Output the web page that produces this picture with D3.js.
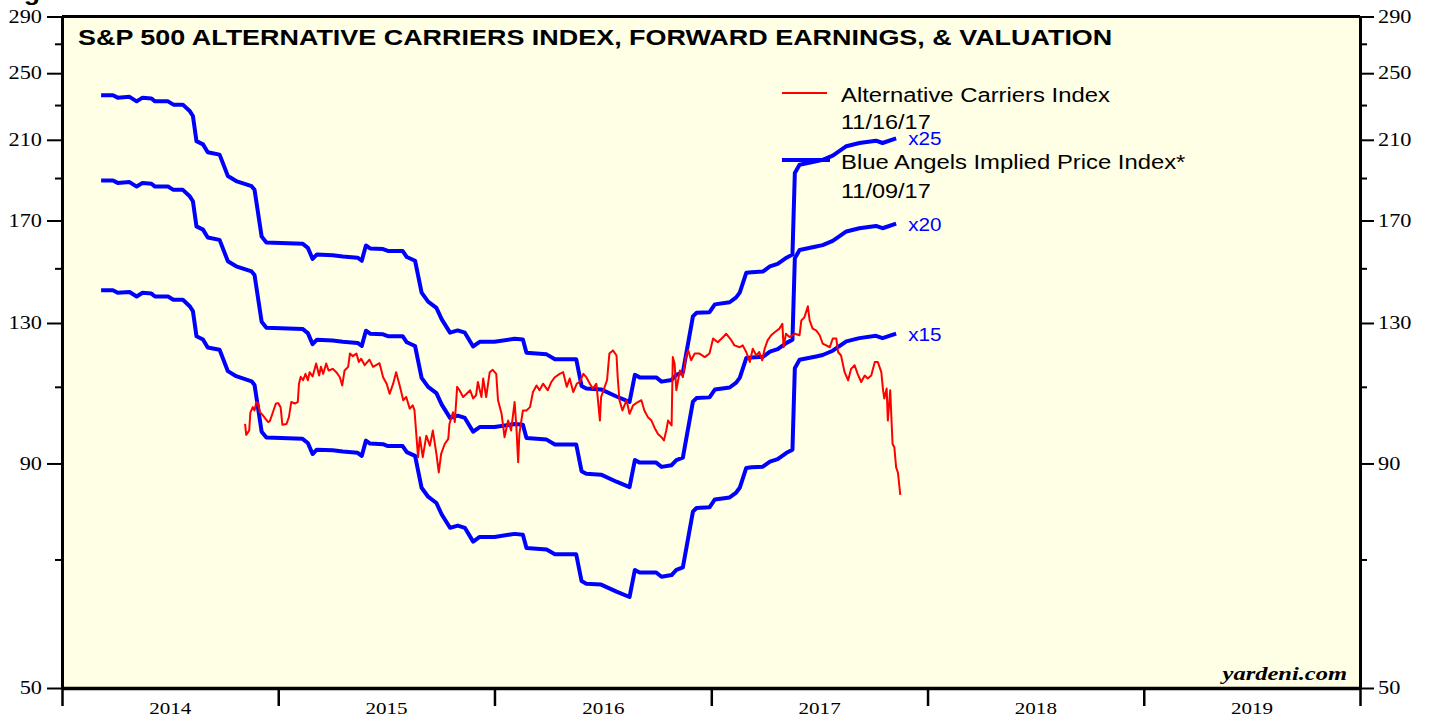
<!DOCTYPE html>
<html lang="en">
<head>
<meta charset="UTF-8">
<title>S&amp;P 500 Alternative Carriers Index, Forward Earnings, &amp; Valuation</title>
<script src="https://d3js.org/d3.v7.min.js"></script>
<style>
  body, html { margin: 0; padding: 0; background: #fff; overflow: hidden; }
  svg { display: block; }
  .sans { font-family: "Liberation Sans", Arial, Helvetica, sans-serif; }
  .serif { font-family: "Liberation Serif", "Times New Roman", serif; }
</style>
</head>
<body>
<svg width="1429" height="719"></svg>
<script>
// ---- data ----
const multiples = [15, 20, 25];

// forward earnings, weekly corners of the step line
const feDates = [
  "2014-03-08","2014-03-28","2014-04-05","2014-04-25","2014-05-07","2014-05-17","2014-06-01","2014-06-07",
  "2014-06-29","2014-07-08","2014-07-24","2014-08-05","2014-08-10","2014-08-16","2014-08-27","2014-09-04",
  "2014-09-24","2014-10-08","2014-10-22","2014-11-17","2014-11-22","2014-12-04","2014-12-12",
  "2015-02-11","2015-02-20","2015-02-28","2015-03-07","2015-04-03","2015-04-20","2015-05-15","2015-05-22",
  "2015-05-29","2015-06-05","2015-06-27","2015-07-05","2015-07-30","2015-08-06","2015-08-20","2015-08-31",
  "2015-09-11","2015-09-25","2015-10-04","2015-10-18","2015-10-31","2015-11-12","2015-11-26","2015-12-07",
  "2016-01-01","2016-02-04","2016-02-18","2016-02-24","2016-03-29","2016-04-12","2016-05-18","2016-05-27",
  "2016-06-04","2016-06-29","2016-07-25","2016-08-16","2016-08-25","2016-09-02","2016-09-30","2016-10-09",
  "2016-10-26","2016-11-03","2016-11-14","2016-12-01","2016-12-07","2016-12-29",
  "2017-01-07","2017-02-01","2017-02-12","2017-02-18","2017-03-01","2017-03-10","2017-03-29","2017-04-10",
  "2017-04-23","2017-05-08","2017-05-18","2017-05-22","2017-05-30","2017-06-27","2017-07-08","2017-07-25",
  "2017-08-17","2017-09-08","2017-10-06","2017-10-17","2017-11-09"
];
const feValues = [
  9.44,9.44,9.38,9.40,9.29,9.38,9.36,9.29,
  9.29,9.21,9.21,9.05,8.94,8.37,8.30,8.13,
  8.08,7.64,7.54,7.44,7.37,6.52,6.42,
  6.40,6.33,6.15,6.22,6.21,6.19,6.17,6.12,
  6.37,6.32,6.31,6.28,6.28,6.18,6.12,5.63,
  5.50,5.41,5.25,5.07,5.10,5.07,4.89,4.95,
  4.95,4.99,4.98,4.81,4.79,4.73,4.73,4.41,
  4.38,4.37,4.29,4.23,4.54,4.51,4.51,4.46,
  4.48,4.54,4.57,5.29,5.34,5.35,
  5.46,5.49,5.56,5.63,5.93,5.94,5.95,6.03,
  6.07,6.17,6.22,7.70,7.87,7.94,7.97,8.06,
  8.26,8.33,8.38,8.33,8.43
];

// alternative carriers index
const acDates = [
  "2014-11-06","2014-11-08","2014-11-13","2014-11-15","2014-11-19","2014-11-22","2014-11-25","2014-11-28",
  "2014-12-01","2014-12-06","2014-12-15","2014-12-18","2014-12-23","2014-12-28",
  "2015-01-01","2015-01-05","2015-01-08","2015-01-15","2015-01-19","2015-01-23","2015-01-29","2015-02-03",
  "2015-02-05","2015-02-08","2015-02-12","2015-02-16","2015-02-20","2015-02-23","2015-02-28","2015-03-06",
  "2015-03-11","2015-03-14","2015-03-18","2015-03-23","2015-03-27","2015-04-03","2015-04-09","2015-04-15",
  "2015-04-19","2015-04-23","2015-04-29","2015-05-02","2015-05-07","2015-05-13","2015-05-17","2015-05-21",
  "2015-05-27","2015-06-04","2015-06-10","2015-06-21","2015-06-27","2015-07-03","2015-07-08","2015-07-14",
  "2015-07-19","2015-07-25","2015-07-31","2015-08-05","2015-08-11","2015-08-16","2015-08-19","2015-08-25",
  "2015-08-28","2015-09-02","2015-09-08","2015-09-14","2015-09-19","2015-09-25","2015-09-29","2015-10-03",
  "2015-10-09","2015-10-15","2015-10-17","2015-10-23","2015-10-26","2015-10-30","2015-11-03","2015-11-09",
  "2015-11-15","2015-11-21","2015-11-26","2015-12-01","2015-12-04","2015-12-10","2015-12-13","2015-12-18",
  "2015-12-24","2015-12-29",
  "2016-01-04","2016-01-07","2016-01-13","2016-01-18","2016-01-24","2016-01-29","2016-02-04","2016-02-07",
  "2016-02-10","2016-02-12","2016-02-18","2016-02-24","2016-03-01","2016-03-06","2016-03-12","2016-03-17",
  "2016-03-23","2016-03-31","2016-04-06","2016-04-12","2016-04-20","2016-04-26","2016-05-02","2016-05-07",
  "2016-05-13","2016-05-19","2016-05-24","2016-05-30","2016-06-04","2016-06-10","2016-06-15","2016-06-21",
  "2016-06-27","2016-06-29","2016-07-05","2016-07-09","2016-07-13","2016-07-19","2016-07-25","2016-07-27",
  "2016-07-30","2016-08-04","2016-08-11","2016-08-16","2016-08-22","2016-08-30","2016-09-05","2016-09-10",
  "2016-09-16","2016-09-22","2016-09-27","2016-10-03","2016-10-09","2016-10-13","2016-10-17","2016-10-20",
  "2016-10-26","2016-10-28","2016-10-31","2016-11-03","2016-11-09","2016-11-14","2016-11-19","2016-11-23",
  "2016-11-28","2016-12-04","2016-12-12","2016-12-21","2016-12-29",
  "2017-01-04","2017-01-12","2017-01-21","2017-01-26","2017-02-04","2017-02-09","2017-02-18","2017-02-23",
  "2017-03-01","2017-03-07","2017-03-12","2017-03-18","2017-03-23","2017-03-28","2017-04-01","2017-04-06",
  "2017-04-12","2017-04-18","2017-04-26","2017-05-01","2017-05-03","2017-05-07","2017-05-13","2017-05-22",
  "2017-05-30","2017-06-02","2017-06-07","2017-06-13","2017-06-16","2017-06-21","2017-06-27","2017-07-03",
  "2017-07-08","2017-07-14","2017-07-20","2017-07-25","2017-07-31","2017-08-03","2017-08-08","2017-08-14",
  "2017-08-20","2017-08-25","2017-08-31","2017-09-05","2017-09-11","2017-09-17","2017-09-22","2017-09-28",
  "2017-10-04","2017-10-09","2017-10-15","2017-10-18","2017-10-20","2017-10-24","2017-10-26","2017-10-30",
  "2017-11-03","2017-11-06","2017-11-09","2017-11-12","2017-11-16"
];
const acValues = [
  99.8,97.0,98.1,102.9,104.3,103.4,105.7,105.3,
  102.9,102.1,100.3,100.6,102.9,105.3,
  105.4,104.3,99.6,99.8,101.6,105.7,105.3,105.7,
  110.9,112.9,111.9,113.8,111.9,114.3,113.0,116.9,
  113.3,115.9,113.8,116.9,114.8,115.3,114.3,112.8,
  110.4,114.8,115.9,120.0,119.2,120.0,117.4,118.4,
  116.4,118.1,115.9,117.0,112.8,110.9,108.0,110.9,
  114.3,110.4,106.2,107.1,103.9,104.8,103.4,91.5,
  96.4,91.5,96.8,94.3,98.1,92.3,87.9,92.3,
  94.7,96.0,99.8,102.9,100.3,110.0,109.0,107.1,
  108.0,109.0,106.7,107.6,111.4,107.1,112.4,107.1,
  114.3,115.0,
  113.8,106.2,102.5,96.4,100.7,98.1,105.7,99.0,
  90.3,97.2,103.4,103.4,104.3,108.5,110.4,109.0,
  110.9,109.0,111.4,112.8,113.8,114.3,110.0,112.4,
  108.5,110.9,111.4,113.8,112.8,110.9,109.5,110.9,
  100.7,107.1,110.0,111.9,120.0,121.0,119.4,112.8,
  106.2,103.4,106.2,102.5,104.8,105.7,106.2,103.4,
  101.6,100.7,98.9,97.2,96.4,95.6,98.1,100.7,
  99.4,118.9,116.9,109.0,114.8,112.8,118.9,121.0,
  117.9,120.0,120.0,118.9,120.0,
  124.8,123.6,125.3,126.4,124.2,122.6,122.0,122.6,
  120.5,117.4,121.5,119.4,120.5,117.9,121.5,124.2,
  125.9,126.9,128.1,129.7,122.0,126.4,125.3,126.4,
  125.9,130.9,131.9,135.8,130.9,128.1,127.5,125.9,
  123.2,122.6,122.0,124.8,124.8,120.5,119.4,114.3,
  111.9,115.3,116.4,113.8,111.4,113.3,112.4,113.3,
  117.4,117.4,114.3,109.0,106.7,109.5,100.7,109.0,
  94.7,93.9,89.1,87.9,82.9
];

const yMajor = [50, 90, 130, 170, 210, 250, 290];
const yMinor = [70, 110, 150, 190, 230, 270];
const years = [2014, 2015, 2016, 2017, 2018, 2019];

// ---- layout ----
const plotLeft = 62, plotRight = 1360, plotTop = 16.5, plotBottom = 688;
const svg = d3.select("svg");
const parse = d3.timeParse("%Y-%m-%d");

const x = d3.scaleTime()
  .domain([new Date(2014, 0, 1), new Date(2020, 0, 1)])
  .range([plotLeft, plotRight]);
const y = d3.scaleLog().domain([50, 290]).range([plotBottom, plotTop]);

const fe = feDates.map((d, i) => ({ date: parse(d), value: feValues[i] }));
const ac = acDates.map((d, i) => ({ date: parse(d), value: acValues[i] }));

// text squeezed/stretched sideways like the original artwork
function stretched(g, txt, px, py, sx, cls, size, extra) {
  const t = g.append("text")
    .attr("class", cls)
    .attr("transform", `translate(${px},${py}) scale(${sx},1)`)
    .style("font-size", size + "px")
    .text(txt);
  if (extra) extra(t);
  return t;
}

// plot background
svg.append("rect")
  .attr("x", plotLeft).attr("y", plotTop)
  .attr("width", plotRight - plotLeft).attr("height", plotBottom - plotTop)
  .attr("fill", "#FFFFE6");

// blue valuation lines
const line = d3.line().x(d => x(d.date)).y(d => y(d.value));
multiples.forEach(m => {
  svg.append("path")
    .datum(fe.map(d => ({ date: d.date, value: d.value * m })))
    .attr("fill", "none")
    .attr("stroke", "#0000FF")
    .attr("stroke-width", 4)
    .attr("stroke-linejoin", "round")
    .attr("d", line);

  const last = fe[fe.length - 1];
  stretched(svg, "x" + m, x(last.date) + 12, y(last.value * m) + 7, 1.15, "sans", 18,
    t => t.attr("fill", "#0000FF"));
});

// red index line
svg.append("path")
  .datum(ac)
  .attr("fill", "none")
  .attr("stroke", "#FF0000")
  .attr("stroke-width", 2)
  .attr("stroke-linejoin", "round")
  .attr("d", line);

// ---- axes ----
const sxNum = 1.24;

const yLeft = svg.append("g")
  .attr("transform", `translate(${plotLeft},0)`)
  .call(d3.axisLeft(y).tickValues(yMajor).tickFormat(d3.format("d"))
    .tickSize(15).tickPadding(5).tickSizeOuter(0));
yLeft.append("g")
  .call(d3.axisLeft(y).tickValues(yMinor).tickFormat("").tickSize(7).tickSizeOuter(0))
  .select(".domain").remove();

const yRight = svg.append("g")
  .attr("transform", `translate(${plotRight},0)`)
  .call(d3.axisRight(y).tickValues(yMajor).tickFormat(d3.format("d"))
    .tickSize(14).tickPadding(4).tickSizeOuter(0));
yRight.append("g")
  .call(d3.axisRight(y).tickValues(yMinor).tickFormat("").tickSize(7).tickSizeOuter(0))
  .select(".domain").remove();

[yLeft, yRight].forEach((g, i) => {
  g.selectAll(".tick text")
    .attr("class", "serif")
    .style("font-size", "18px")
    .attr("fill", "#000")
    .attr("x", i === 0 ? -20 / sxNum : 18 / sxNum)
    .attr("transform", `scale(${sxNum},1)`);
  g.selectAll(".tick line").attr("stroke-width", 2);
  g.select(".domain").attr("stroke-width", 3);
});

const yearTicks = years.concat(2020).map(yr => new Date(yr, 0, 1));
const xAxis = svg.append("g")
  .attr("transform", `translate(0,${plotBottom})`)
  .call(d3.axisBottom(x).tickValues(yearTicks).tickFormat("").tickSize(18).tickSizeOuter(0));
xAxis.selectAll(".tick line").attr("stroke-width", 2.5);
xAxis.select(".domain").attr("stroke-width", 3.5);

const xLabels = svg.append("g")
  .attr("transform", `translate(0,${plotBottom})`)
  .call(d3.axisBottom(x).tickValues(years.map(yr => new Date(yr, 6, 2)))
    .tickFormat(d3.timeFormat("%Y")).tickSize(0).tickPadding(14));
xLabels.select(".domain").remove();
xLabels.selectAll(".tick text")
  .attr("class", "serif")
  .style("font-size", "17px")
  .attr("fill", "#000")
  .attr("transform", `scale(${sxNum},1)`);

// top border
svg.append("line")
  .attr("x1", plotLeft).attr("x2", plotRight)
  .attr("y1", plotTop).attr("y2", plotTop)
  .attr("stroke", "#000").attr("stroke-width", 3);

// ---- text ----
stretched(svg, "Figure", 0, -0.5, 1.21, "sans", 22, t => t.style("font-weight", "bold"));
stretched(svg, "S&P 500 ALTERNATIVE CARRIERS INDEX, FORWARD EARNINGS, & VALUATION",
  78, 44.5, 1.225, "sans", 22, t => t.style("font-weight", "bold"));

// legend
svg.append("line")
  .attr("x1", 782).attr("x2", 827).attr("y1", 93).attr("y2", 93)
  .attr("stroke", "#FF0000").attr("stroke-width", 2);
svg.append("line")
  .attr("x1", 782).attr("x2", 830).attr("y1", 160).attr("y2", 160)
  .attr("stroke", "#0000FF").attr("stroke-width", 4);
stretched(svg, "Alternative Carriers Index", 841, 101.5, 1.135, "sans", 21);
stretched(svg, "11/16/17", 841, 129, 1.12, "sans", 21);
stretched(svg, "Blue Angels Implied Price Index*", 841, 169, 1.135, "sans", 21);
stretched(svg, "11/09/17", 841, 197.5, 1.12, "sans", 21);

stretched(svg, "yardeni.com", 1347, 680, 1.29, "serif", 19,
  t => t.attr("text-anchor", "end").style("font-weight", "bold").style("font-style", "italic"));
</script>
</body>
</html>
